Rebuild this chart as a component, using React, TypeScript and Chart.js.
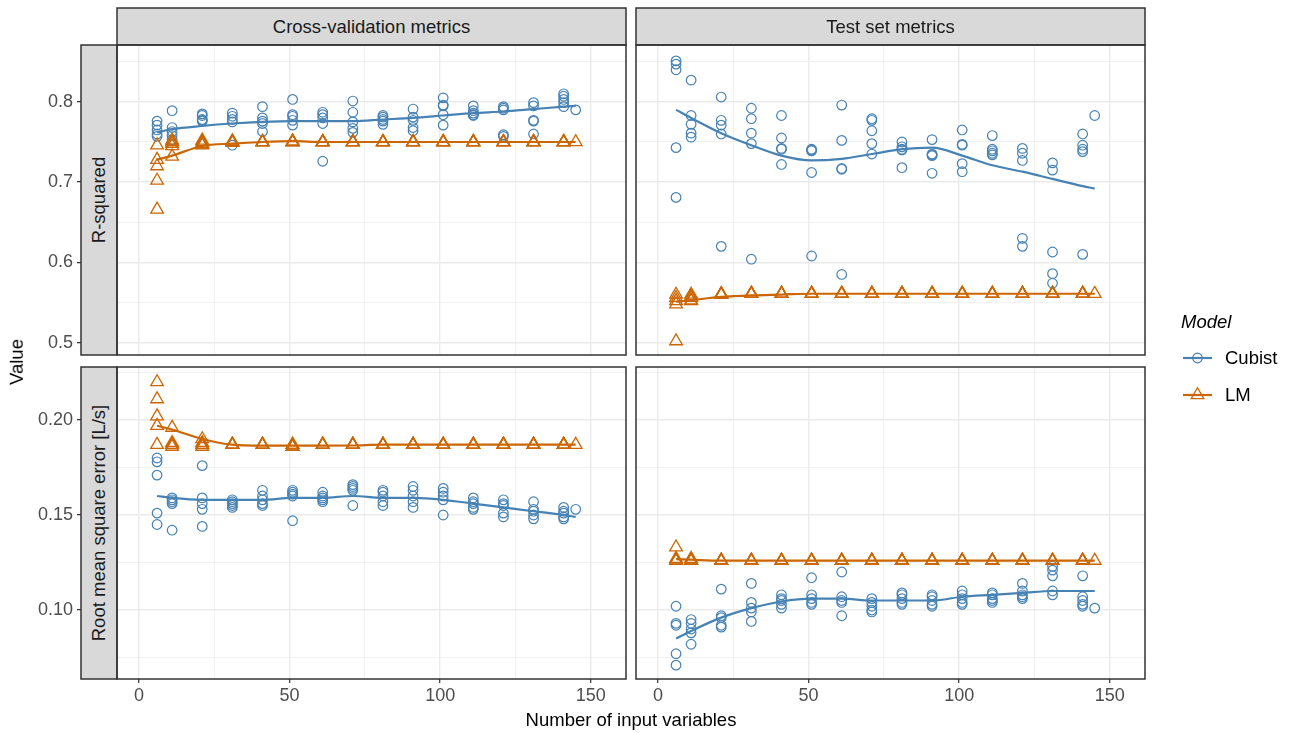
import React, { useEffect, useRef } from "react";
import { Chart, registerables } from "chart.js";

Chart.register(...registerables);

// ---------- data ----------
const X_GROUPS = [6, 11, 21, 31, 41, 51, 61, 71, 81, 91, 101, 111, 121, 131, 141, 145];

const X_TICKS = [0, 25, 50, 75, 100, 125, 150];
const X_TICK_LABELS = ["0", "", "50", "", "100", "", "150"];

const Y_TOP_TICKS = [0.5, 0.55, 0.6, 0.65, 0.7, 0.75, 0.8, 0.85];
const Y_TOP_LABELS = ["0.5", "", "0.6", "", "0.7", "", "0.8", ""];
const Y_BOT_TICKS = [0.075, 0.1, 0.125, 0.15, 0.175, 0.2, 0.225];
const Y_BOT_LABELS = ["", "0.10", "", "0.15", "", "0.20", ""];

const COL_STRIPS = ["Cross-validation metrics", "Test set metrics"];
const ROW_STRIPS = ["R-squared", "Root mean square error [L/s]"];
const MODELS = ["Cubist", "LM"];

// Cross-validation R-squared
const cvR2Cubist = [
  [0.776, 0.771, 0.765, 0.76, 0.757],
  [0.789, 0.768, 0.763, 0.758, 0.753],
  [0.785, 0.783, 0.778, 0.777, 0.776],
  [0.786, 0.782, 0.778, 0.775, 0.746],
  [0.794, 0.78, 0.776, 0.773, 0.763],
  [0.803, 0.784, 0.782, 0.777, 0.771],
  [0.787, 0.784, 0.78, 0.773, 0.726],
  [0.801, 0.787, 0.775, 0.767, 0.762],
  [0.783, 0.781, 0.778, 0.776, 0.772],
  [0.791, 0.781, 0.777, 0.768, 0.764],
  [0.805, 0.796, 0.795, 0.784, 0.771],
  [0.795, 0.789, 0.786, 0.784, 0.783],
  [0.794, 0.792, 0.79, 0.759, 0.757],
  [0.799, 0.795, 0.777, 0.776, 0.76],
  [0.81, 0.807, 0.803, 0.799, 0.794],
  [0.79],
];
const cvR2LM = [
  [0.746, 0.728, 0.72, 0.702, 0.666],
  [0.752, 0.75, 0.748, 0.745, 0.732],
  [0.752, 0.75, 0.748, 0.747, 0.746],
  [0.751, 0.75, 0.75, 0.749, 0.749],
  [0.75, 0.75, 0.75, 0.75, 0.75],
  [0.751, 0.75, 0.75, 0.75, 0.75],
  [0.75, 0.75, 0.75, 0.75, 0.75],
  [0.75, 0.75, 0.75, 0.75, 0.75],
  [0.75, 0.75, 0.75, 0.75, 0.75],
  [0.75, 0.75, 0.75, 0.75, 0.75],
  [0.75, 0.75, 0.75, 0.75, 0.75],
  [0.75, 0.75, 0.75, 0.75, 0.75],
  [0.75, 0.75, 0.75, 0.75, 0.75],
  [0.75, 0.75, 0.75, 0.75, 0.75],
  [0.75, 0.75, 0.75, 0.75, 0.75],
  [0.75],
];
const cvR2CubistSmooth = [0.762, 0.766, 0.77, 0.773, 0.775, 0.776, 0.776, 0.776, 0.778, 0.78, 0.783, 0.786, 0.788, 0.791, 0.794, 0.795];
const cvR2LMSmooth = [0.728, 0.733, 0.745, 0.748, 0.75, 0.751, 0.75, 0.75, 0.75, 0.75, 0.75, 0.75, 0.75, 0.75, 0.75, 0.75];

// Test set R-squared
const testR2Cubist = [
  [0.851, 0.847, 0.84, 0.743, 0.681],
  [0.827, 0.783, 0.772, 0.761, 0.756],
  [0.806, 0.777, 0.771, 0.76, 0.62],
  [0.792, 0.779, 0.761, 0.748, 0.604],
  [0.783, 0.755, 0.742, 0.741, 0.722],
  [0.741, 0.74, 0.739, 0.712, 0.608],
  [0.796, 0.752, 0.717, 0.716, 0.585],
  [0.779, 0.777, 0.764, 0.748, 0.735],
  [0.75, 0.744, 0.741, 0.74, 0.718],
  [0.753, 0.735, 0.734, 0.733, 0.711],
  [0.765, 0.747, 0.746, 0.723, 0.713],
  [0.758, 0.741, 0.739, 0.736, 0.734],
  [0.742, 0.736, 0.727, 0.63, 0.62],
  [0.724, 0.715, 0.613, 0.586, 0.574],
  [0.76, 0.746, 0.741, 0.738, 0.61],
  [0.783],
];
const testR2LM = [
  [0.56, 0.556, 0.552, 0.548, 0.502],
  [0.56, 0.558, 0.556, 0.553, 0.552],
  [0.561, 0.56, 0.56, 0.56, 0.56],
  [0.561, 0.561, 0.561, 0.561, 0.561],
  [0.561, 0.561, 0.561, 0.561, 0.561],
  [0.561, 0.561, 0.561, 0.561, 0.561],
  [0.561, 0.561, 0.561, 0.561, 0.561],
  [0.561, 0.561, 0.561, 0.561, 0.561],
  [0.561, 0.561, 0.561, 0.561, 0.561],
  [0.561, 0.561, 0.561, 0.561, 0.561],
  [0.561, 0.561, 0.561, 0.561, 0.561],
  [0.561, 0.561, 0.561, 0.561, 0.561],
  [0.561, 0.561, 0.561, 0.561, 0.561],
  [0.561, 0.561, 0.561, 0.561, 0.561],
  [0.561, 0.561, 0.561, 0.561, 0.561],
  [0.561],
];
const testR2CubistSmooth = [0.79, 0.78, 0.761, 0.746, 0.733, 0.727, 0.729, 0.735, 0.741, 0.743, 0.733, 0.721, 0.713, 0.704, 0.695, 0.692];
const testR2LMSmooth = [0.551, 0.553, 0.557, 0.559, 0.56, 0.561, 0.561, 0.561, 0.561, 0.561, 0.561, 0.561, 0.561, 0.561, 0.561, 0.561];

// Cross-validation RMSE
const cvRmseCubist = [
  [0.18, 0.178, 0.171, 0.151, 0.145],
  [0.159, 0.158, 0.157, 0.156, 0.142],
  [0.176, 0.159, 0.156, 0.153, 0.144],
  [0.158, 0.157, 0.156, 0.155, 0.154],
  [0.163, 0.16, 0.158, 0.156, 0.155],
  [0.163, 0.162, 0.161, 0.16, 0.147],
  [0.162, 0.16, 0.159, 0.158, 0.157],
  [0.166, 0.165, 0.164, 0.163, 0.155],
  [0.163, 0.162, 0.16, 0.157, 0.155],
  [0.165, 0.163, 0.16, 0.157, 0.154],
  [0.164, 0.162, 0.16, 0.158, 0.15],
  [0.159, 0.157, 0.156, 0.154, 0.153],
  [0.158, 0.156, 0.155, 0.151, 0.149],
  [0.157, 0.153, 0.152, 0.15, 0.148],
  [0.154, 0.152, 0.151, 0.149, 0.148],
  [0.153],
];
const cvRmseLM = [
  [0.22, 0.211, 0.202, 0.197, 0.187],
  [0.196, 0.188, 0.187, 0.187, 0.186],
  [0.19, 0.188, 0.187, 0.187, 0.186],
  [0.187, 0.187, 0.187, 0.187, 0.187],
  [0.187, 0.187, 0.187, 0.187, 0.187],
  [0.187, 0.187, 0.186, 0.186, 0.186],
  [0.187, 0.187, 0.187, 0.187, 0.187],
  [0.187, 0.187, 0.187, 0.187, 0.187],
  [0.187, 0.187, 0.187, 0.187, 0.187],
  [0.187, 0.187, 0.187, 0.187, 0.187],
  [0.187, 0.187, 0.187, 0.187, 0.187],
  [0.187, 0.187, 0.187, 0.187, 0.187],
  [0.187, 0.187, 0.187, 0.187, 0.187],
  [0.187, 0.187, 0.187, 0.187, 0.187],
  [0.187, 0.187, 0.187, 0.187, 0.187],
  [0.187],
];
const cvRmseCubistSmooth = [0.16, 0.159, 0.158, 0.158, 0.158, 0.159, 0.159, 0.16, 0.159, 0.159, 0.158, 0.156, 0.154, 0.152, 0.15, 0.149];
const cvRmseLMSmooth = [0.197, 0.195, 0.19, 0.187, 0.1865, 0.1865, 0.1865, 0.1866, 0.187, 0.187, 0.187, 0.187, 0.187, 0.187, 0.187, 0.187];

// Test set RMSE
const testRmseCubist = [
  [0.102, 0.093, 0.092, 0.077, 0.071],
  [0.095, 0.093, 0.09, 0.088, 0.082],
  [0.111, 0.097, 0.096, 0.092, 0.091],
  [0.114, 0.104, 0.101, 0.099, 0.094],
  [0.108, 0.106, 0.105, 0.103, 0.101],
  [0.117, 0.108, 0.106, 0.104, 0.103],
  [0.12, 0.107, 0.105, 0.104, 0.097],
  [0.106, 0.104, 0.102, 0.1, 0.099],
  [0.109, 0.108, 0.106, 0.104, 0.103],
  [0.108, 0.107, 0.105, 0.103, 0.102],
  [0.11, 0.108, 0.106, 0.104, 0.103],
  [0.109, 0.108, 0.106, 0.105, 0.104],
  [0.114, 0.11, 0.108, 0.107, 0.106],
  [0.123, 0.121, 0.118, 0.11, 0.108],
  [0.118, 0.107, 0.105, 0.103, 0.102],
  [0.101],
];
const testRmseLM = [
  [0.133, 0.127, 0.126, 0.126, 0.126],
  [0.127, 0.126, 0.126, 0.126, 0.126],
  [0.126, 0.126, 0.126, 0.126, 0.126],
  [0.126, 0.126, 0.126, 0.126, 0.126],
  [0.126, 0.126, 0.126, 0.126, 0.126],
  [0.126, 0.126, 0.126, 0.126, 0.126],
  [0.126, 0.126, 0.126, 0.126, 0.126],
  [0.126, 0.126, 0.126, 0.126, 0.126],
  [0.126, 0.126, 0.126, 0.126, 0.126],
  [0.126, 0.126, 0.126, 0.126, 0.126],
  [0.126, 0.126, 0.126, 0.126, 0.126],
  [0.126, 0.126, 0.126, 0.126, 0.126],
  [0.126, 0.126, 0.126, 0.126, 0.126],
  [0.126, 0.126, 0.126, 0.126, 0.126],
  [0.126, 0.126, 0.126, 0.126, 0.126],
  [0.126],
];
const testRmseCubistSmooth = [0.085, 0.089, 0.096, 0.101, 0.1045, 0.106, 0.106, 0.105, 0.105, 0.105, 0.107, 0.108, 0.109, 0.11, 0.11, 0.11];
const testRmseLMSmooth = [0.1268, 0.1265, 0.126, 0.126, 0.126, 0.126, 0.126, 0.126, 0.126, 0.126, 0.126, 0.126, 0.126, 0.126, 0.126, 0.126];

// ---------- style ----------
const BLUE = "#4682B4";
const ORANGE = "#CC6600";
const FONT = "'Liberation Sans', Arial, Helvetica, sans-serif";
const GRID = "#EBEBEB";
const DARK = "#333333";

const X_MIN = -7.3;
const X_MAX = 161.7;

const toPoints = (groups: number[][]) => {
  const out: { x: number; y: number }[] = [];
  groups.forEach((vals, g) => vals.forEach((v) => out.push({ x: X_GROUPS[g], y: v })));
  return out;
};
const toLine = (vals: number[]) => vals.map((v, i) => ({ x: X_GROUPS[i], y: v }));

type PanelProps = {
  left: number;
  top: number;
  width: number;
  height: number;
  pad: { left: number; right: number; top: number; bottom: number };
  showX: boolean;
  showY: boolean;
  yMin: number;
  yMax: number;
  yTicks: number[];
  yLabels: string[];
  cubist: number[][];
  lm: number[][];
  cubistSmooth: number[];
  lmSmooth: number[];
};

function Panel(p: PanelProps) {
  const ref = useRef<HTMLCanvasElement | null>(null);
  useEffect(() => {
    if (!ref.current) return;
    const chart = new Chart(ref.current, {
      type: "scatter",
      data: {
        datasets: [
          {
            label: "LM smooth",
            data: toLine(p.lmSmooth),
            showLine: true,
            borderColor: ORANGE,
            borderWidth: 2.2,
            pointRadius: 0,
            cubicInterpolationMode: "monotone",
            tension: 0.4,
            fill: false,
          } as any,
          {
            label: "Cubist smooth",
            data: toLine(p.cubistSmooth),
            showLine: true,
            borderColor: BLUE,
            borderWidth: 2.2,
            pointRadius: 0,
            cubicInterpolationMode: "monotone",
            tension: 0.4,
            fill: false,
          } as any,
          {
            label: "LM",
            data: toPoints(p.lm),
            pointStyle: "triangle",
            pointRadius: 7.3,
            borderWidth: 1.3,
            borderColor: ORANGE,
            backgroundColor: "rgba(0,0,0,0)",
            showLine: false,
          } as any,
          {
            label: "Cubist",
            data: toPoints(p.cubist),
            pointStyle: "circle",
            pointRadius: 4.8,
            borderWidth: 1.2,
            borderColor: BLUE,
            backgroundColor: "rgba(0,0,0,0)",
            showLine: false,
          } as any,
        ],
      },
      options: {
        animation: false,
        responsive: false,
        devicePixelRatio: 1,
        layout: { padding: p.pad },
        plugins: { legend: { display: false }, tooltip: { enabled: false } },
        scales: {
          x: {
            type: "linear",
            min: X_MIN,
            max: X_MAX,
            afterBuildTicks: (s: any) => {
              s.ticks = X_TICKS.map((v) => ({ value: v }));
            },
            afterFit: (s: any) => {
              s.height = p.showX ? 38 : 0;
              s.paddingLeft = 0;
              s.paddingRight = 0;
            },
            border: { display: false },
            grid: {
              color: GRID,
              lineWidth: (c: any) => (X_TICK_LABELS[c.index] ? 1.4 : 0.7),
              drawTicks: p.showX,
              tickLength: 4,
              tickWidth: 1.2,
              tickColor: (c: any) => (X_TICK_LABELS[c.index] ? DARK : "rgba(0,0,0,0)"),
            },
            ticks: {
              display: p.showX,
              autoSkip: false,
              maxRotation: 0,
              minRotation: 0,
              padding: 2,
              color: "#4D4D4D",
              font: { family: FONT, size: 18 },
              callback: (_v: any, i: number) => X_TICK_LABELS[i],
            },
          },
          y: {
            type: "linear",
            min: p.yMin,
            max: p.yMax,
            afterBuildTicks: (s: any) => {
              s.ticks = p.yTicks.map((v) => ({ value: v }));
            },
            afterFit: (s: any) => {
              s.width = p.showY ? 117 : 0;
              s.paddingTop = 0;
              s.paddingBottom = 0;
            },
            border: { display: false },
            grid: {
              color: GRID,
              lineWidth: (c: any) => (p.yLabels[c.index] ? 1.4 : 0.7),
              drawTicks: p.showY,
              tickLength: 40,
              tickWidth: 1.2,
              tickColor: (c: any) => (p.yLabels[c.index] ? DARK : "rgba(0,0,0,0)"),
            },
            ticks: {
              display: p.showY,
              autoSkip: false,
              padding: 4,
              color: "#4D4D4D",
              font: { family: FONT, size: 18 },
              callback: (_v: any, i: number) => p.yLabels[i],
            },
          },
        },
      } as any,
    });
    return () => chart.destroy();
  }, []);
  return (
    <canvas
      ref={ref}
      width={p.width}
      height={p.height}
      style={{ position: "absolute", left: p.left, top: p.top, width: p.width, height: p.height }}
    />
  );
}

const abs = (s: React.CSSProperties): React.CSSProperties => ({ position: "absolute", ...s });

function Strip({ left, top, width, height, text, vertical }: any) {
  return (
    <div style={abs({ left, top, width, height, background: "#D9D9D9", overflow: "hidden" })}>
      <div
        style={abs({
          left: "50%",
          top: "50%",
          transform: `translate(-50%, -50%)${vertical ? " rotate(-90deg)" : ""}`,
          whiteSpace: "nowrap",
          fontSize: 18.5,
          color: "#1A1A1A",
          lineHeight: 1,
        })}
      >
        {text}
      </div>
    </div>
  );
}

export default function App() {
  const TOP_Y = 45;
  const TOP_H = 310;
  const BOT_Y = 367;
  const BOT_H = 312;
  const L_X = 117;
  const R_X = 636;
  const P_W = 509;
  const STRIP_TOP = 8;
  const STRIP_W = 36;
  const STRIP_L = 81;

  const rects = [
    { x: L_X, y: TOP_Y, w: P_W, h: TOP_H },
    { x: R_X, y: TOP_Y, w: P_W, h: TOP_H },
    { x: L_X, y: BOT_Y, w: P_W, h: BOT_H },
    { x: R_X, y: BOT_Y, w: P_W, h: BOT_H },
    { x: L_X, y: STRIP_TOP, w: P_W, h: TOP_Y - STRIP_TOP },
    { x: R_X, y: STRIP_TOP, w: P_W, h: TOP_Y - STRIP_TOP },
    { x: STRIP_L, y: TOP_Y, w: STRIP_W, h: TOP_H },
    { x: STRIP_L, y: BOT_Y, w: STRIP_W, h: BOT_H },
  ];

  return (
    <div
      style={{
        position: "fixed",
        left: 0,
        top: 0,
        width: 1290,
        height: 733,
        background: "#FFFFFF",
        fontFamily: FONT,
        overflow: "hidden",
      }}
    >
      <Panel
        left={0}
        top={TOP_Y - 20}
        width={L_X + P_W + 20}
        height={TOP_H + 40}
        pad={{ left: 0, right: 20, top: 20, bottom: 20 }}
        showX={false}
        showY={true}
        yMin={0.4847}
        yMax={0.8708}
        yTicks={Y_TOP_TICKS}
        yLabels={Y_TOP_LABELS}
        cubist={cvR2Cubist}
        lm={cvR2LM}
        cubistSmooth={cvR2CubistSmooth}
        lmSmooth={cvR2LMSmooth}
      />
      <Panel
        left={R_X - 20}
        top={TOP_Y - 20}
        width={P_W + 40}
        height={TOP_H + 40}
        pad={{ left: 20, right: 20, top: 20, bottom: 20 }}
        showX={false}
        showY={false}
        yMin={0.4847}
        yMax={0.8708}
        yTicks={Y_TOP_TICKS}
        yLabels={Y_TOP_LABELS}
        cubist={testR2Cubist}
        lm={testR2LM}
        cubistSmooth={testR2CubistSmooth}
        lmSmooth={testR2LMSmooth}
      />
      <Panel
        left={0}
        top={BOT_Y - 20}
        width={L_X + P_W + 20}
        height={BOT_H + 20 + 38}
        pad={{ left: 0, right: 20, top: 20, bottom: 0 }}
        showX={true}
        showY={true}
        yMin={0.0637}
        yMax={0.2279}
        yTicks={Y_BOT_TICKS}
        yLabels={Y_BOT_LABELS}
        cubist={cvRmseCubist}
        lm={cvRmseLM}
        cubistSmooth={cvRmseCubistSmooth}
        lmSmooth={cvRmseLMSmooth}
      />
      <Panel
        left={R_X - 20}
        top={BOT_Y - 20}
        width={P_W + 40}
        height={BOT_H + 20 + 38}
        pad={{ left: 20, right: 20, top: 20, bottom: 0 }}
        showX={true}
        showY={false}
        yMin={0.0637}
        yMax={0.2279}
        yTicks={Y_BOT_TICKS}
        yLabels={Y_BOT_LABELS}
        cubist={testRmseCubist}
        lm={testRmseLM}
        cubistSmooth={testRmseCubistSmooth}
        lmSmooth={testRmseLMSmooth}
      />

      <Strip left={L_X} top={STRIP_TOP} width={P_W} height={TOP_Y - STRIP_TOP} text={COL_STRIPS[0]} />
      <Strip left={R_X} top={STRIP_TOP} width={P_W} height={TOP_Y - STRIP_TOP} text={COL_STRIPS[1]} />
      <Strip left={STRIP_L} top={TOP_Y} width={STRIP_W} height={TOP_H} text={ROW_STRIPS[0]} vertical />
      <Strip left={STRIP_L} top={BOT_Y} width={STRIP_W} height={BOT_H} text={ROW_STRIPS[1]} vertical />

      <svg
        width={1290}
        height={733}
        style={{ position: "absolute", left: 0, top: 0, pointerEvents: "none" }}
      >
        {rects.map((r, i) => (
          <rect key={i} x={r.x} y={r.y} width={r.w} height={r.h} fill="none" stroke={DARK} strokeWidth={1.5} />
        ))}
      </svg>

      <div
        style={abs({
          left: 17,
          top: 362,
          transform: "translate(-50%, -50%) rotate(-90deg)",
          fontSize: 18.5,
          color: "#000",
          whiteSpace: "nowrap",
          lineHeight: 1,
        })}
      >
        Value
      </div>
      <div
        style={abs({
          left: 631,
          top: 720,
          transform: "translate(-50%, -50%)",
          fontSize: 18.5,
          color: "#000",
          whiteSpace: "nowrap",
          lineHeight: 1,
        })}
      >
        Number of input variables
      </div>

      <div style={abs({ left: 1181, top: 313, fontSize: 18.5, fontStyle: "italic", lineHeight: 1, color: "#000" })}>
        Model
      </div>
      {MODELS.map((m, i) => (
        <div key={m} style={abs({ left: 1181, top: 346 + i * 37, height: 24, width: 110 })}>
          <svg width={34} height={24} style={{ position: "absolute", left: 0, top: 0 }}>
            <line x1={2} y1={12} x2={31} y2={12} stroke={i === 0 ? BLUE : ORANGE} strokeWidth={2.2} />
            {i === 0 ? (
              <circle cx={16.5} cy={12} r={4.8} fill="none" stroke={BLUE} strokeWidth={1.2} />
            ) : (
              <polygon points="16.5,4.7 22.8,15.65 10.2,15.65" fill="none" stroke={ORANGE} strokeWidth={1.3} />
            )}
          </svg>
          <div style={abs({ left: 44, top: 3, fontSize: 18.5, lineHeight: 1, color: "#000", whiteSpace: "nowrap" })}>
            {m}
          </div>
        </div>
      ))}
    </div>
  );
}
